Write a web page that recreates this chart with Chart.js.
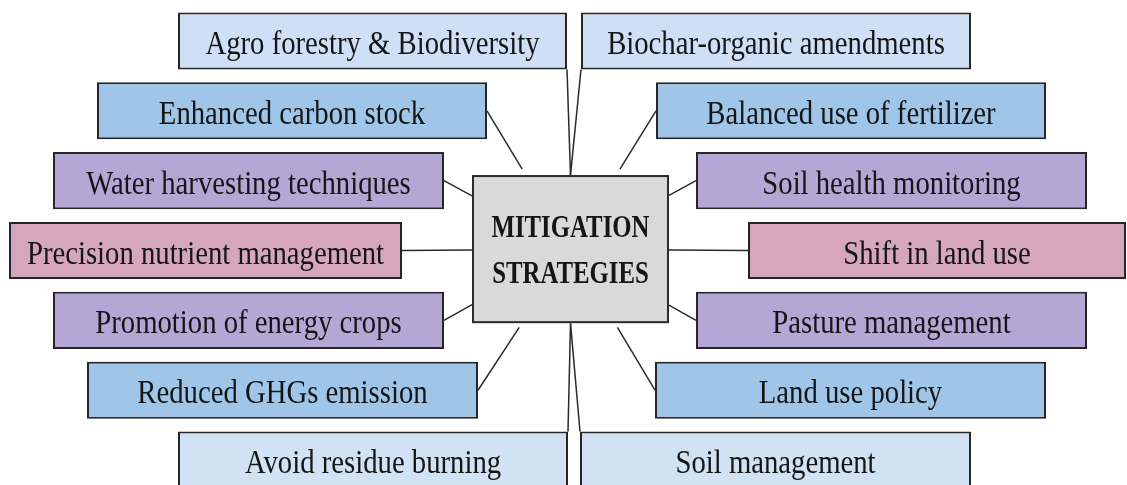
<!DOCTYPE html>
<html>
<head>
<meta charset="utf-8">
<script src="https://cdn.jsdelivr.net/npm/chart.js@4/dist/chart.umd.min.js"></script>
<style>
  html, body { margin: 0; padding: 0; background: #fff; overflow: hidden; }
  #wrap { width: 1127px; height: 500px; }
</style>
</head>
<body>
<div id="wrap"><canvas id="chart"></canvas></div>
<script>
// rows of the diagram, top to bottom
const rows = ["r1", "r2", "r3", "r4", "r5", "r6", "r7"];

const leftLabels = [
  "Agro forestry & Biodiversity",
  "Enhanced carbon stock",
  "Water harvesting techniques",
  "Precision nutrient management",
  "Promotion of energy crops",
  "Reduced GHGs emission",
  "Avoid residue burning",
];
const rightLabels = [
  "Biochar-organic amendments",
  "Balanced use of fertilizer",
  "Soil health monitoring",
  "Shift in land use",
  "Pasture management",
  "Land use policy",
  "Soil management",
];

// box extents on the horizontal scale
const leftSpans = [[178, 567], [97, 487], [53, 444], [9, 402], [53, 444], [87, 478], [178, 568]];
const rightSpans = [[581, 971], [656, 1046], [696, 1087], [748, 1126], [696, 1087], [655, 1046], [580, 971]];

// central box
const hubLines = ["MITIGATION", "STRATEGIES"];
const hubSpan = [472, 669];
const hubRows = [1.92, 4.04];

const rowColors = ["#cfe0f6", "#9fc5e9", "#b4a7d6", "#d6a5be", "#b4a7d6", "#9fc5e9", "#d1e2f4"];
const connectorGap = [0, 7, 0, 0, 0, 5, 0];

// draws the lines between the boxes and the centre
const connectors = {
  id: "connectors",
  beforeDatasetsDraw(chart) {
    const { ctx, scales } = chart;
    const hx1 = scales.x.getPixelForValue(hubSpan[0]);
    const hx2 = scales.x.getPixelForValue(hubSpan[1]);
    const hy1 = scales.y.getPixelForValue(hubRows[0]);
    const hy2 = scales.y.getPixelForValue(hubRows[1]);
    const cx = (hx1 + hx2) / 2, cy = (hy1 + hy2) / 2;
    ctx.save();
    ctx.strokeStyle = "#2b2b2b";
    ctx.lineWidth = 1.5;
    [0, 1].forEach(side => {
      chart.getDatasetMeta(side).data.forEach((bar, i) => {
        const p = bar.getProps(["x", "base", "y", "height"]);
        const inner = side === 0 ? Math.max(p.x, p.base) : Math.min(p.x, p.base);
        let sx = inner, sy = p.y, ex, ey;
        if (i === 0 || i === rows.length - 1) {
          sy = i === 0 ? p.y + p.height / 2 : p.y - p.height / 2;
          ex = cx;
          ey = i === 0 ? hy1 : hy2;
        } else {
          const dx = cx - sx, dy = cy - sy;
          // find where the ray meets the hub border
          let t = 1;
          if (dx !== 0) {
            const tx = ((dx > 0 ? hx1 : hx2) - sx) / dx;
            const yy = sy + tx * dy;
            if (tx > 0 && yy >= hy1 && yy <= hy2) t = Math.min(t, tx);
          }
          if (dy !== 0) {
            const ty = ((dy > 0 ? hy1 : hy2) - sy) / dy;
            const xx = sx + ty * dx;
            if (ty > 0 && xx >= hx1 && xx <= hx2) t = Math.min(t, ty);
          }
          const len = Math.hypot(dx, dy);
          t -= connectorGap[i] / len;
          ex = sx + dx * t;
          ey = sy + dy * t;
        }
        ctx.beginPath();
        ctx.moveTo(sx, sy);
        ctx.lineTo(ex, ey);
        ctx.stroke();
      });
    });
    ctx.restore();
  },
};

// writes the box texts and draws the centre box
const boxText = {
  id: "boxText",
  afterDatasetsDraw(chart) {
    const { ctx, scales } = chart;
    ctx.save();
    ctx.fillStyle = "#151515";
    ctx.textAlign = "center";
    ctx.textBaseline = "alphabetic";
    ctx.font = "33px 'Liberation Serif'";
    [leftLabels, rightLabels].forEach((labels, side) => {
      chart.getDatasetMeta(side).data.forEach((bar, i) => {
        const p = bar.getProps(["x", "base", "y"]);
        const mx = (p.x + p.base) / 2;
        ctx.save();
        ctx.translate(mx, p.y + 13);
        ctx.scale(0.87, 1);
        ctx.fillText(labels[i], 0, 0);
        ctx.restore();
      });
    });

    const hx1 = scales.x.getPixelForValue(hubSpan[0]);
    const hx2 = scales.x.getPixelForValue(hubSpan[1]);
    const hy1 = scales.y.getPixelForValue(hubRows[0]);
    const hy2 = scales.y.getPixelForValue(hubRows[1]);
    ctx.fillStyle = "#d9d9d9";
    ctx.fillRect(hx1, hy1, hx2 - hx1, hy2 - hy1);
    ctx.strokeStyle = "#2b2b2b";
    ctx.lineWidth = 2;
    ctx.strokeRect(hx1 + 1, hy1 + 1, hx2 - hx1 - 2, hy2 - hy1 - 2);
    const cx = (hx1 + hx2) / 2, cy = (hy1 + hy2) / 2;
    ctx.fillStyle = "#151515";
    ctx.font = "bold 31px 'Liberation Serif'";
    [-12, 34].forEach((off, k) => {
      ctx.save();
      ctx.translate(cx, cy + off);
      ctx.scale(0.8, 1);
      ctx.fillText(hubLines[k], 0, 0);
      ctx.restore();
    });
    ctx.restore();
  },
};

const boxStyle = {
  backgroundColor: rowColors,
  borderColor: "#262626",
  borderWidth: 2,
  borderSkipped: false,
  barPercentage: 0.817,
  categoryPercentage: 1,
  grouped: false,
};

const chart = new Chart(document.getElementById("chart").getContext("2d"), {
  type: "bar",
  data: {
    labels: rows,
    datasets: [
      { label: "left", data: leftSpans, ...boxStyle },
      { label: "right", data: rightSpans, ...boxStyle },
    ],
  },
  options: {
    indexAxis: "y",
    responsive: true,
    maintainAspectRatio: false,
    animation: false,
    layout: { padding: { top: 6, bottom: 5, left: 0, right: 0 } },
    plugins: { legend: { display: false }, tooltip: { enabled: false } },
    scales: {
      x: { type: "linear", min: 0, max: 1127, display: false },
      y: { display: false, offset: true },
    },
  },
  plugins: [connectors, boxText],
});
</script>
</body>
</html>
